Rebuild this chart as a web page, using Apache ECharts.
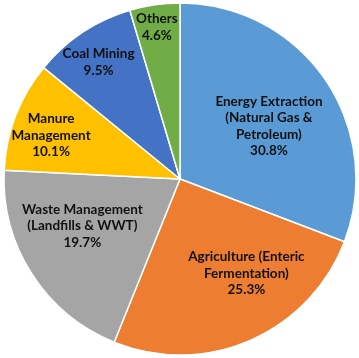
<!DOCTYPE html>
<html>
<head>
<meta charset="utf-8">
<script src="https://cdn.jsdelivr.net/npm/echarts@6/dist/echarts.min.js"></script>
<style>
  html, body { margin: 0; padding: 0; background: #fff; }
  #chart { width: 359px; height: 358px; }
</style>
</head>
<body>
<div id="chart"></div>
<script>
// sources of methane emissions, clockwise from 12 o'clock
var categories = [
  'Energy Extraction\n(Natural Gas &\nPetroleum)',
  'Agriculture (Enteric\nFermentation)',
  'Waste Management\n(Landfills & WWT)',
  'Manure\nManagement',
  'Coal Mining',
  'Others'
];
var shares = [30.8, 25.3, 19.7, 10.1, 9.5, 4.6];
var colors = ['#5B9BD5', '#ED7D31', '#A5A5A5', '#FFC000', '#4472C4', '#70AD47'];

// Excel placed the labels by hand, so nudge them off the mid radius
var labelNudge = [[14, -1], [30, 11], [-21, -2], [-44, -11], [-31, -41], [-10, -62]];

var chart = echarts.init(document.getElementById('chart'));

var data = categories.map(function (name, i) {
  return {
    name: name,
    value: shares[i],
    itemStyle: { color: colors[i] },
    label: { offset: labelNudge[i] }
  };
});

chart.setOption({
  animation: false,
  series: [{
    type: 'pie',
    center: [180, 179],
    radius: [0, 176],
    startAngle: 90,
    clockwise: true,
    data: data,
    itemStyle: { borderColor: '#fff', borderWidth: 1.5 },
    label: {
      show: true,
      position: 'inside',
      formatter: function (p) { return p.name + '\n' + p.value.toFixed(1) + '%'; },
      color: '#111',
      fontFamily: 'Lato',
      fontWeight: 'bold',
      fontSize: 13.5,
      lineHeight: 16.5,
      align: 'center'
    },
    labelLine: { show: false },
    emphasis: { disabled: true }
  }]
});
</script>
</body>
</html>
